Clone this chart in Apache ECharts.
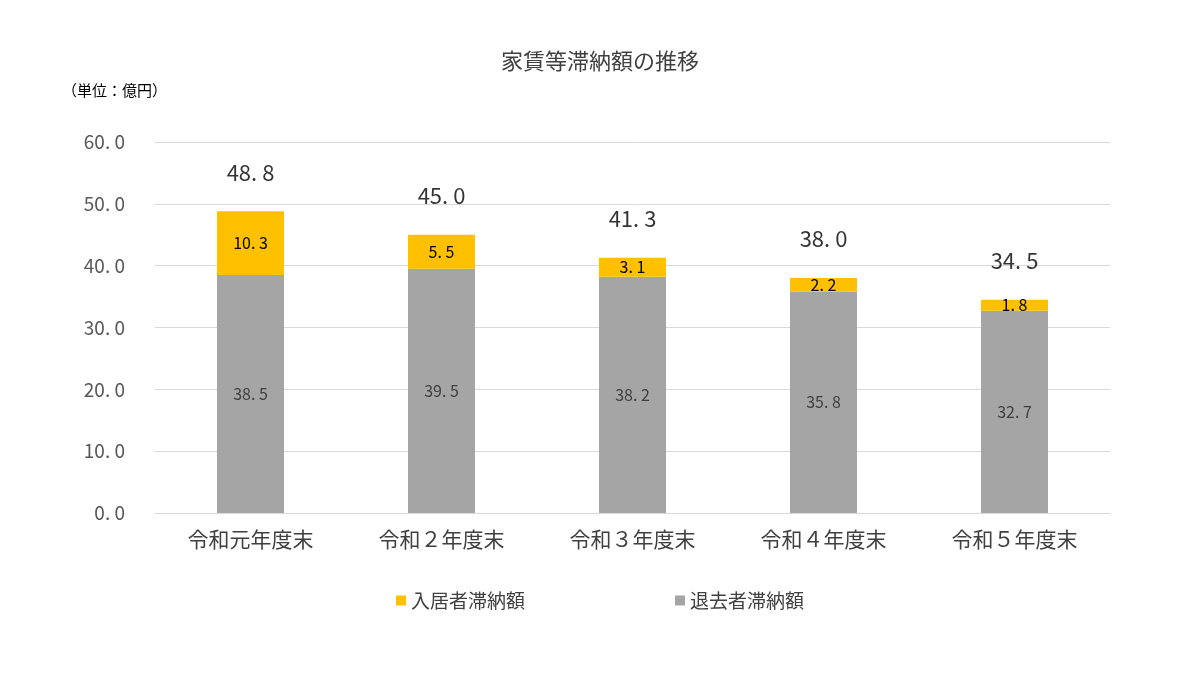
<!DOCTYPE html>
<html><head><meta charset="utf-8">
<script src="https://cdn.jsdelivr.net/npm/echarts@6/dist/echarts.min.js"></script>
<style>html,body{margin:0;background:#fff}#c{width:1200px;height:675px}</style>
</head><body><div id="c"></div>
<script>
const categories = ['令和元年度末','令和２年度末','令和３年度末','令和４年度末','令和５年度末'];
const taikyo = [38.5, 39.5, 38.2, 35.8, 32.7];
const nyukyo = [10.3, 5.5, 3.1, 2.2, 1.8];
const totals = [48.8, 45.0, 41.3, 38.0, 34.5];
const fmt = v => v.toFixed(1).replace('.', '. ');
const F = '"Noto Sans CJK JP", sans-serif';
const chart = echarts.init(document.getElementById('c'));
chart.setOption({
  animation:false,
  textStyle:{fontFamily:F},
  title:{text:'家賃等滞納額の推移',left:'center',top:45,textStyle:{fontFamily:F,fontWeight:'normal',fontSize:22,color:'#404040'}},
  graphic:[{type:'text',left:62,top:83,style:{text:'（単位：億円）',font:'15px '+F,fill:'#000'}}],
  grid:{left:155,right:90,top:142,bottom:162},
  legend:{bottom:60,itemWidth:10,itemHeight:10,itemGap:150,icon:'rect',
    textStyle:{fontFamily:F,fontSize:19,color:'#404040'},
    data:['入居者滞納額','退去者滞納額']},
  xAxis:{type:'category',data:categories,axisTick:{show:false},
    axisLine:{lineStyle:{color:'#d9d9d9'}},
    axisLabel:{fontSize:21,color:'#404040',margin:16,fontFamily:F}},
  yAxis:{type:'value',min:0,max:60,interval:10,
    axisLabel:{formatter:v=>fmt(v),fontSize:19,color:'#595959',margin:30,fontFamily:F},
    splitLine:{lineStyle:{color:'#d9d9d9'}}},
  series:[
    {name:'退去者滞納額',type:'bar',stack:'a',data:taikyo,barWidth:67,itemStyle:{color:'#A5A5A5'},
      label:{show:true,position:'inside',formatter:p=>fmt(p.value),fontSize:16,color:'#404040'}},
    {name:'入居者滞納額',type:'bar',stack:'a',data:nyukyo,barWidth:67,itemStyle:{color:'#FFC000'},
      label:{show:true,position:'inside',formatter:p=>fmt(p.value),fontSize:16,color:'#000'}},
    {name:'合計',type:'scatter',data:totals,symbolSize:0,silent:true,
      label:{show:true,position:'top',distance:28,formatter:p=>fmt(p.value),fontSize:22,color:'#000'}}
  ]
});
</script></body></html>
